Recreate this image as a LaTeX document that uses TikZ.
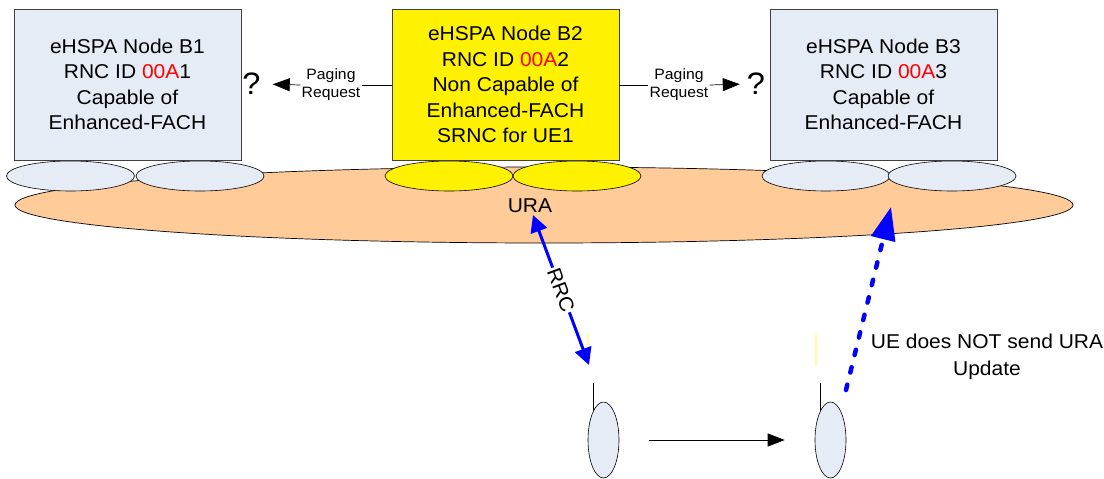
\documentclass[tikz,border=0pt]{standalone}
\usepackage{fontspec}
\setmainfont{Liberation Sans}[FakeStretch=1.05]
\usetikzlibrary{arrows.meta,shapes.geometric}
\definecolor{boxblue}{RGB}{230,236,246}
\definecolor{uraorange}{RGB}{255,204,153}
\definecolor{paleyellow}{RGB}{255,255,160}
\definecolor{edgegray}{RGB}{64,64,64}
\definecolor{pureblue}{RGB}{0,0,255}
\begin{document}
\begin{tikzpicture}[x=1pt,y=-1pt,
  nodebox/.style={draw=edgegray, line width=0.8pt, minimum width=227pt, minimum height=151pt, inner sep=0pt, align=center, font=\fontsize{20}{25.5}\selectfont},
  cell/.style={draw=black, ellipse, line width=0.6pt, minimum width=128pt, minimum height=30pt, inner sep=0pt},
  phone/.style={draw=black, ellipse, line width=0.6pt, fill=boxblue, minimum width=31pt, minimum height=76pt, inner sep=0pt},
  paging/.style={inner sep=1pt, align=center, font=\fontsize{15}{18}\selectfont},
  qmark/.style={inner sep=0pt, font=\fontsize{31}{31}\selectfont},
  bigtext/.style={inner sep=1pt, align=center, font=\fontsize{20}{27}\selectfont},
  thinarrow/.style={line width=0.7pt, -{Triangle[length=17pt,width=13pt]}},
  rrcarrow/.style={pureblue, line width=3pt, {Triangle[length=17pt,width=17pt]}-{Triangle[length=17pt,width=17pt]}},
  uearrow/.style={pureblue, line width=4.5pt, line cap=round, dash pattern=on 5.5pt off 12.5pt, -{Triangle[length=33pt,width=24pt]}},
  antenna/.style={line width=1pt, black},
  artifact/.style={paleyellow, line width=1.5pt}
]
\fill[white] (0,0) rectangle (1104,479);
\useasboundingbox (0,0) rectangle (1104,479);

% URA area
\node[draw=black, ellipse, line width=0.7pt, fill=uraorange, minimum width=1058pt, minimum height=76pt, inner sep=0pt] (ura) at (544,205) {};
\node[inner sep=0pt, font=\fontsize{20}{20}\selectfont] (uralabel) at (530,206) {URA};

% cells
\node[cell, fill=boxblue] (c1a) at (70.5,176) {};
\node[cell, fill=boxblue] (c1b) at (200,176) {};
\node[cell, fill=yellow] (c2a) at (449,176) {};
\node[cell, fill=yellow] (c2b) at (577,176) {};
\node[cell, fill=boxblue] (c3a) at (826,176) {};
\node[cell, fill=boxblue] (c3b) at (952,176) {};

% Node Bs
\node[nodebox, fill=boxblue] (b1) at (127.5,84.5) {eHSPA Node B1\\RNC ID \textcolor{red}{00A}1\\Capable of\\Enhanced-FACH};
\node[nodebox, fill=yellow] (b2) at (505.5,84.5) {eHSPA Node B2\\RNC ID \textcolor{red}{00A}2\\Non Capable of\\Enhanced-FACH\\SRNC for UE1};
\node[nodebox, fill=boxblue] (b3) at (883.5,84.5) {eHSPA Node B3\\RNC ID \textcolor{red}{00A}3\\Capable of\\Enhanced-FACH};

% paging
\node[paging] (pl) at (331,85) {Paging\\Request};
\node[paging] (pr) at (679,85) {Paging\\Request};
\node[qmark] (ql) at (251.5,84) {?};
\node[qmark] (qr) at (756,84) {?};
\draw[line width=0.7pt] (b2.west |- pl.east) -- (pl.east);
\draw[thinarrow, shorten >=12pt] (pl.west) -- (ql.east);
\draw[line width=0.7pt] (b2.east |- pr.west) -- (pr.west);
\draw[thinarrow, shorten >=7pt] (pr.east) -- (qr.west);

% phones
\draw[antenna] (593,383) -- (593,413);
\draw[antenna] (820,383) -- (820,413);
\node[phone] (ue1) at (603.5,440) {};
\node[phone] (ue2) at (830.5,440) {};
\draw[thinarrow, shorten <=30pt, shorten >=30pt] (ue1.east) -- (ue2.west);

% artifacts
\draw[artifact] (588,333) -- (588,347);
\draw[artifact] (816,333) -- (816,366);

% RRC
\coordinate (rrctop) at (533,215);
\coordinate (rrcbot) at (589,365);
\draw[rrcarrow] (rrctop) -- node[sloped, fill=white, inner sep=1pt, text=black, font=\fontsize{20}{20}\selectfont] (rrc) {RRC} (rrcbot);

% UE does not send
\coordinate (uestart) at (846,390);
\coordinate (uetip) at (891,207);
\draw[uearrow] (uestart) -- (uetip);
\node[bigtext] (uetext) at (987,357) {UE does NOT send URA\\Update};
\end{tikzpicture}
\end{document}
